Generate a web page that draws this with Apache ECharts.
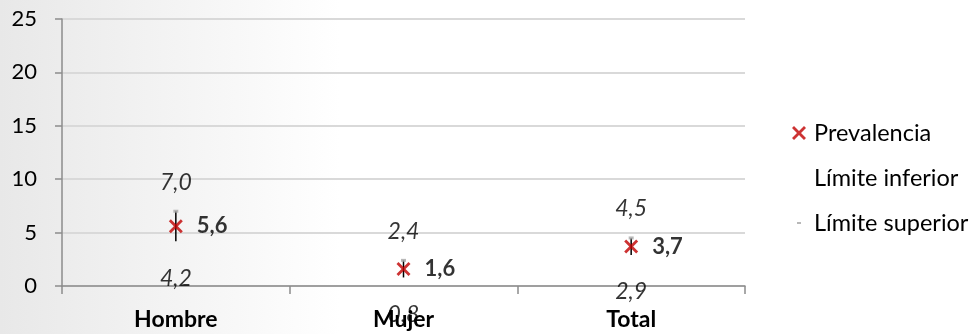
<!DOCTYPE html>
<html>
<head>
<meta charset="utf-8">
<script src="https://cdn.jsdelivr.net/npm/echarts@6/dist/echarts.min.js"></script>
<style>
  html, body { margin: 0; padding: 0; }
  #chart { width: 973px; height: 334px; }
</style>
</head>
<body>
<div id="chart"></div>
<script>
// datos
const categories = ['Hombre', 'Mujer', 'Total'];
const prevalencia = [5.6, 1.6, 3.7];
const limiteInferior = [4.2, 0.8, 2.9];
const limiteSuperior = [7.0, 2.4, 4.5];
const yMin = 0, yMax = 25, yStep = 5;

const fontFam = 'Lato, "Open Sans", sans-serif';
const coma = v => Number(v).toFixed(1).replace('.', ',');
const xPath = 'path://M0,2 L2,0 L7,5 L12,0 L14,2 L9,7 L14,12 L12,14 L7,9 L2,14 L0,12 L5,7 Z';
// dash with padding so the legend icon stays small
const dashPath = 'path://M0,0 M14,14 M5,6 L9,6 L9,8 L5,8 Z';

let barras = categories.map((c, i) => [i, limiteInferior[i], limiteSuperior[i]]);

let myChart = echarts.init(document.getElementById('chart'));
let option = {
  backgroundColor: new echarts.graphic.LinearGradient(0, 0, 1, 0, [
    { offset: 0, color: '#e8e8e8' },
    { offset: 0.35, color: '#ffffff' },
    { offset: 1, color: '#ffffff' }
  ]),
  textStyle: { fontFamily: fontFam },
  animation: false,
  grid: { left: 62, right: 228, top: 19, bottom: 48 },
  legend: {
    orient: 'vertical',
    left: 787,
    top: 115,
    itemWidth: 14,
    itemHeight: 14,
    itemGap: 19,
    textStyle: { fontSize: 23.5, lineHeight: 26, color: '#000', fontFamily: fontFam, padding: [0, 0, 0, 3] },
    data: [
      { name: 'Prevalencia', icon: xPath },
      { name: 'Límite inferior' },
      { name: 'Límite superior', icon: dashPath }
    ]
  },
  xAxis: {
    type: 'category',
    data: categories,
    boundaryGap: true,
    axisLine: { lineStyle: { color: '#8c8c8c', width: 1.5 } },
    axisTick: { show: true, length: 8, interval: 0, lineStyle: { color: '#8c8c8c', width: 1.5 } },
    axisLabel: { fontSize: 23, fontWeight: 'bold', color: '#000', margin: 22, fontFamily: fontFam }
  },
  yAxis: {
    type: 'value',
    min: yMin,
    max: yMax,
    interval: yStep,
    axisLine: { show: true, lineStyle: { color: '#8c8c8c', width: 1.5 } },
    axisTick: { show: true, length: 7, lineStyle: { color: '#8c8c8c', width: 1.5 } },
    splitLine: { lineStyle: { color: '#d9d9d9', width: 2 } },
    axisLabel: { fontSize: 22, color: '#000', margin: 25, fontFamily: fontFam }
  },
  series: [
    {
      type: 'custom',
      name: 'barra',
      z: 1,
      data: barras,
      encode: { x: 0, y: [1, 2] },
      renderItem: function (params, api) {
        let p1 = api.coord([api.value(0), api.value(1)]);
        let p2 = api.coord([api.value(0), api.value(2)]);
        return {
          type: 'line',
          shape: { x1: p1[0], y1: p1[1], x2: p2[0], y2: p2[1] },
          style: { stroke: '#000', lineWidth: 1.5 }
        };
      }
    },
    {
      type: 'scatter',
      name: 'Límite inferior',
      z: 2,
      data: limiteInferior,
      symbolSize: 1,
      itemStyle: { color: 'rgba(0,0,0,0)' },
      label: {
        show: true,
        position: 'bottom',
        distance: 25,
        formatter: p => coma(p.value),
        fontSize: 23,
        fontStyle: 'italic',
        color: '#000',
        fontFamily: fontFam
      }
    },
    {
      type: 'scatter',
      name: 'Límite superior',
      z: 3,
      data: limiteSuperior,
      symbol: 'rect',
      symbolSize: [5, 3],
      itemStyle: { color: '#a6a6a6' },
      label: {
        show: true,
        position: 'top',
        distance: 16,
        formatter: p => coma(p.value),
        fontSize: 23,
        fontStyle: 'italic',
        color: '#000',
        fontFamily: fontFam
      }
    },
    {
      type: 'scatter',
      name: 'Prevalencia',
      z: 4,
      data: prevalencia,
      symbol: xPath,
      symbolSize: 14,
      itemStyle: { color: '#c00000' },
      label: {
        show: true,
        position: 'right',
        distance: 14,
        formatter: p => coma(p.value),
        fontSize: 22,
        fontWeight: 'bold',
        color: '#000',
        fontFamily: fontFam
      }
    }
  ]
};
myChart.setOption(option);
window.addEventListener('resize', () => {
  myChart.resize();
});
</script>
</body>
</html>
